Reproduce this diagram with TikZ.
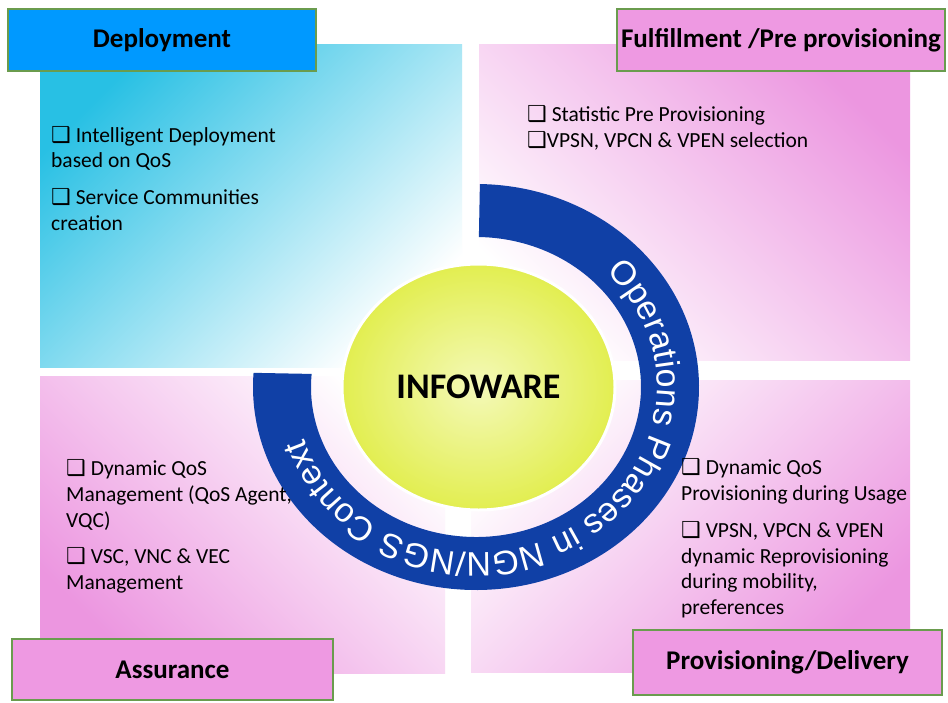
\documentclass[tikz,border=0pt]{standalone}
\usepackage{fontspec}
\setmainfont{Carlito}
\newfontfamily\arcfam{Liberation Sans}
\newfontfamily\symfam{DejaVu Sans}
\usetikzlibrary{shapes.geometric,decorations.text,calc}
\definecolor{arcblue}{RGB}{16,64,166}
\definecolor{hdrblue}{RGB}{0,153,255}
\definecolor{hdrpink}{RGB}{238,153,226}
\definecolor{hdrgreen}{RGB}{106,156,78}
\definecolor{qcyan}{RGB}{40,192,228}
\definecolor{qpink}{RGB}{236,150,224}
\definecolor{ylight}{RGB}{244,249,184}
\definecolor{ydark}{RGB}{226,238,80}
\newcommand\bx{{\symfam\fontsize{22}{22}\selectfont ❑}}
\newcommand\arcfont{\arcfam\fontsize{34}{40}\selectfont}
\begin{document}
\begin{tikzpicture}[x=1pt,y=1pt,
  hdr/.style={draw=hdrgreen, line width=2pt, minimum height=62pt, inner sep=0pt, font=\fontsize{27}{32}\selectfont\bfseries},
  body/.style={anchor=base west, align=left, inner sep=0pt, font=\fontsize{21.5}{25.5}\selectfont},
]
\useasboundingbox (0,0) rectangle (948,-702);
\fill[white] (0,0) rectangle (948,-702);
% quadrants
\shade[bottom color=white, top color=qcyan, shading angle=45] (40,-44) rectangle (462,-367);
\shade[bottom color=white, top color=qpink, shading angle=-45] (479,-44) rectangle (910,-360);
\shade[bottom color=white, top color=qpink, shading angle=135] (40,-376) rectangle (445,-673);
\shade[bottom color=white, top color=qpink, shading angle=-135] (471,-380) rectangle (910,-672);
% ring
\coordinate (c) at (476,-387);
\fill[arcblue] ($(c)+(89:223 and 203)$) arc[start angle=89, end angle=-184, x radius=223, y radius=203]
  -- ($(c)+(-185:165 and 150)$) arc[start angle=-185, end angle=89, x radius=165, y radius=150] -- cycle;
\path[decorate, decoration={text along path, text align=fit to path, text color=white,
  text={|\arcfont|Operations Phases in NGN/NGS Context}}]
  ($(c)+(44:181 and 166)$) arc[start angle=44, end angle=-162, x radius=181, y radius=166];
% core
\node[ellipse, minimum width=273pt, minimum height=246pt, inner color=ylight, outer color=ydark,
  draw=white, line width=3pt, font=\fontsize{36}{40}\selectfont\bfseries] (core) at (478.5,-387) {INFOWARE};
% headers
\node[hdr, fill=hdrblue, minimum width=308pt] (dep) at (162,-40) {Deployment};
\node[hdr, fill=hdrpink, minimum width=328pt] (ful) at (781,-40) {Fulfillment /Pre provisioning};
\node[hdr, fill=hdrpink, minimum width=321pt, minimum height=61pt] (ass) at (172.5,-669.5) {Assurance};
\node[hdr, fill=hdrpink, minimum width=309pt, minimum height=65pt] (pro) at (787.5,-662.5) {Provisioning/Delivery};
% bodies (anchor = baseline of last line)
\node[body] (tl) at (51,-230) {\bx{} Intelligent Deployment\\ based on QoS\\[11.5pt] \bx{} Service Communities\\ creation};
\node[body, font=\fontsize{21.5}{26}\selectfont] (tr) at (527,-147) {\bx{} Statistic Pre Provisioning\\ \bx{}VPSN, VPCN \& VPEN selection};
\node[body, font=\fontsize{21.5}{26}\selectfont] (bl) at (66,-589) {\bx{} Dynamic QoS\\ Management (QoS Agent,\\ VQC)\\[10pt] \bx{} VSC, VNC \& VEC\\ Management};
\node[body] (br) at (681,-614) {\bx{} Dynamic QoS\\ Provisioning during Usage\\[12pt] \bx{} VPSN, VPCN \& VPEN\\ dynamic Reprovisioning\\ during mobility,\\ preferences};
\end{tikzpicture}
\end{document}
